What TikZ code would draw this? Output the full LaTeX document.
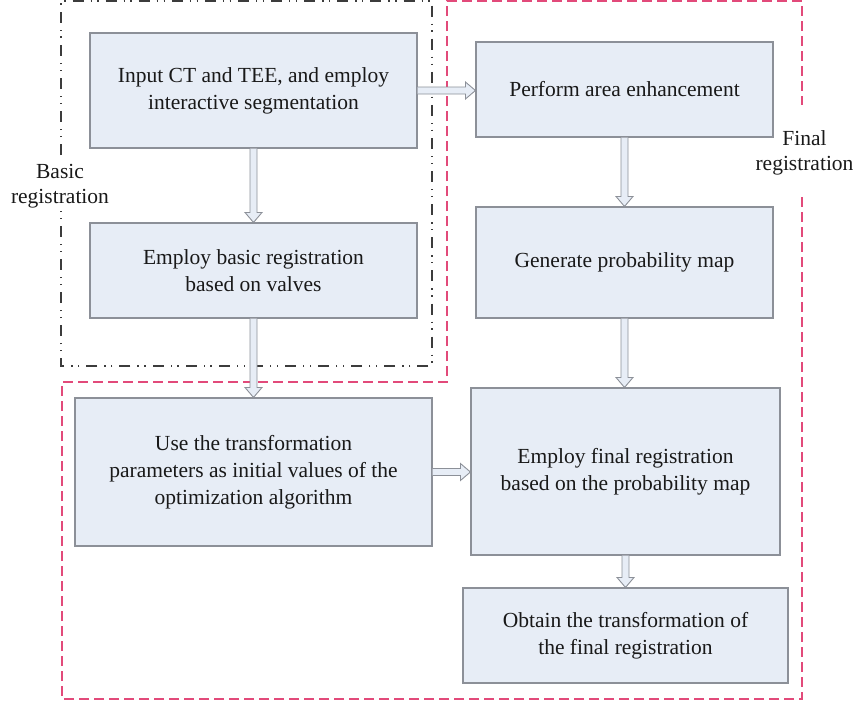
\documentclass[tikz,border=0pt]{standalone}
\usepackage{fontspec}
\setmainfont{Liberation Serif}
\usetikzlibrary{calc}
\definecolor{boxfill}{RGB}{231,237,246}
\definecolor{boxline}{RGB}{140,144,152}
\definecolor{framered}{RGB}{226,74,122}
\definecolor{framegray}{RGB}{60,60,60}
\tikzset{
  stepbox/.style={draw=boxline, fill=boxfill, line width=1.1pt, inner sep=0pt, align=center,
    font=\fontsize{21.5}{27}\selectfont, text=black!90},
  lbl/.style={align=center, font=\fontsize{21.5}{25}\selectfont, text=black!90},
  blk/.style={draw=boxline, fill=boxfill, line width=0.9pt, line join=miter},
  redframe/.style={draw=framered, line width=1.2pt, dash pattern=on 10pt off 5pt},
  grayframe/.style={draw=framegray, line width=1.2pt, dash pattern=on 11pt off 7pt on 1.3pt off 5.5pt on 1.3pt off 7pt},
}
\begin{document}
\begin{tikzpicture}[x=1pt,y=-1pt]
\useasboundingbox (0,0) rectangle (857,705);
% frames
\draw[grayframe] (61,155) -- (61,1) -- (432,1) -- (432,366) -- (61,366) -- (61,207);
\draw[redframe] (802,197) -- (802,699) -- (62,699) -- (62,382) -- (447,382) -- (447,1) -- (802,1) -- (802,105);
\node[lbl] (basic) at (60,186) {Basic\\registration};
\node[lbl] (final) at (804.5,153) {Final\\registration};
% boxes
\node[stepbox, minimum width=327pt, minimum height=115pt] (A) at (253.5,90.5) {Input CT and TEE, and employ\\interactive segmentation};
\node[stepbox, minimum width=327pt, minimum height=95pt] (B) at (253.5,270.5) {Employ basic registration\\based on valves};
\node[stepbox, minimum width=297pt, minimum height=95pt] (C) at (624.5,89.5) {Perform area enhancement};
\node[stepbox, minimum width=297pt, minimum height=111pt] (D) at (624.5,262.5) {Generate probability map};
\node[stepbox, minimum width=357pt, minimum height=148pt] (E) at (253.5,472) {Use the transformation\\parameters as initial values of the\\optimization algorithm};
\node[stepbox, minimum width=309pt, minimum height=167pt] (F) at (625.5,471.5) {Employ final registration\\based on the probability map};
\node[stepbox, minimum width=325pt, minimum height=95pt] (G) at (625.5,635.5) {Obtain the transformation of\\the final registration};
% hollow block arrows
\newcommand\downblk[2]{%
  \draw[blk] let \p1=(#1.south), \p2=(#2.north) in
    (\x1-3.5pt,\y1) -- (\x1-3.5pt,\y2+10pt) -- (\x1-8.5pt,\y2+10pt) -- (\x1,\y2)
    -- (\x1+8.5pt,\y2+10pt) -- (\x1+3.5pt,\y2+10pt) -- (\x1+3.5pt,\y1);}
\newcommand\rightblk[2]{%
  \draw[blk] let \p1=(#1.east), \p2=(#2.west) in
    (\x1,\y1+3.5pt) -- (\x2-10pt,\y1+3.5pt) -- (\x2-10pt,\y1+8.5pt) -- (\x2,\y1)
    -- (\x2-10pt,\y1-8.5pt) -- (\x2-10pt,\y1-3.5pt) -- (\x1,\y1-3.5pt);}
\downblk{A}{B}
\downblk{B}{E}
\downblk{C}{D}
\downblk{D}{F}
\downblk{F}{G}
\rightblk{A}{C}
\rightblk{E}{F}
\end{tikzpicture}
\end{document}
